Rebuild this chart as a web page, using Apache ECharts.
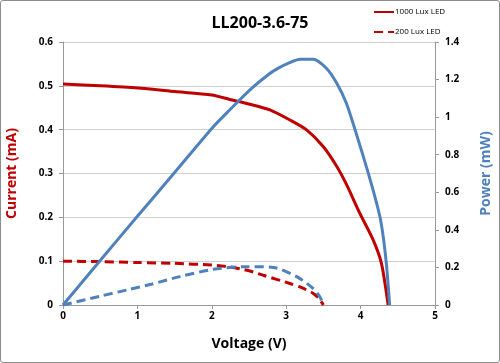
<!DOCTYPE html>
<html><head><meta charset="utf-8">
<script src="https://cdn.jsdelivr.net/npm/echarts@6/dist/echarts.min.js"></script>
<style>html,body{margin:0;padding:0;background:#fff;}
#wrap{position:absolute;left:0;top:0;width:498px;height:361px;border:1px solid #8c8c8c;border-radius:3px;}
#c{position:absolute;left:0;top:0;width:500px;height:363px;}</style>
</head><body><div id="wrap"></div><div id="c"></div>
<script>
const title = 'LL200-3.6-75';
const xTicks = [0, 1, 2, 3, 4, 5];
// 1000 Lux LED - current
const vI1000 = [0, 0.5, 1.0, 1.5, 2.0, 2.24, 2.51, 2.78, 3.05, 3.27, 3.50, 3.68, 3.81, 3.99, 4.17, 4.28, 4.37];
const i1000 = [0.504, 0.500, 0.495, 0.487, 0.479, 0.469, 0.458, 0.445, 0.422, 0.400, 0.361, 0.316, 0.275, 0.209, 0.148, 0.095, 0.0];
// 1000 Lux LED - power
const vP1000 = [0, 0.5, 1.0, 1.5, 2.0, 2.24, 2.51, 2.78, 2.9, 3.01, 3.19, 3.36, 3.54, 3.68, 3.81, 3.92, 4.13, 4.26, 4.31, 4.35, 4.39];
const p1000 = [0, 0.237, 0.472, 0.705, 0.94, 1.038, 1.144, 1.232, 1.262, 1.284, 1.308, 1.308, 1.26, 1.18, 1.073, 0.94, 0.665, 0.47, 0.346, 0.204, 0.0];
// 200 Lux LED - current
const vI200 = [0, 0.5, 1.0, 1.5, 2.0, 2.24, 2.5, 2.69, 3.05, 3.2, 3.36, 3.44, 3.50];
const i200 = [0.100, 0.099, 0.097, 0.095, 0.091, 0.087, 0.078, 0.068, 0.049, 0.040, 0.027, 0.015, 0.0];
// 200 Lux LED - power
const vP200 = [0, 0.5, 0.86, 1.2, 1.57, 2.02, 2.47, 2.83, 3.14, 3.36, 3.45, 3.50];
const p200 = [0, 0.047, 0.080, 0.112, 0.151, 0.190, 0.204, 0.200, 0.151, 0.089, 0.045, 0.0];

const RED = '#C00000', BLUE = '#4F81BD';
const pairs = (xs, ys) => xs.map((x, k) => [x, ys[k]]);
const font = '"Open Sans", "Liberation Sans", sans-serif';
const chart = echarts.init(document.getElementById('c'));
chart.setOption({
  animation: false,
  textStyle: { fontFamily: font },
  title: { text: title, left: 255, top: 10, textAlign: 'center',
    textStyle: { fontSize: 16, fontWeight: 'bold', color: '#000', fontFamily: font } },
  legend: {
    data: ['1000 Lux LED', '200 Lux LED'], orient: 'vertical', left: 368, top: 3,
    itemWidth: 20, itemHeight: 4, itemGap: 12,
    itemStyle: { opacity: 0 },
    textStyle: { fontSize: 8, color: '#000', fontFamily: font, padding: [0, 0, 0, -4] }
  },
  grid: { left: 63, right: 65, top: 42, bottom: 58, outerBoundsMode: 'none', containLabel: false },
  xAxis: {
    type: 'value', min: 0, max: 5, interval: 1,
    name: 'Voltage (V)', nameLocation: 'middle', nameGap: 32,
    nameTextStyle: { fontSize: 14, fontWeight: 'bold', color: '#000' },
    axisLine: { lineStyle: { color: '#999' } },
    axisTick: { show: true, lineStyle: { color: '#999' }, length: 4 },
    axisLabel: { fontSize: 10, fontWeight: 'bold', color: '#000', margin: 6 },
    splitLine: { show: false }
  },
  yAxis: [{
    type: 'value', min: 0, max: 0.6, interval: 0.1,
    name: 'Current (mA)', nameLocation: 'middle', nameGap: 44,
    nameTextStyle: { fontSize: 14, fontWeight: 'bold', color: RED },
    axisLine: { show: true, lineStyle: { color: '#999' } },
    axisTick: { show: true, lineStyle: { color: '#999' }, length: 4 },
    axisLabel: { fontSize: 10, fontWeight: 'bold', color: '#000', margin: 10, formatter: v => +v.toFixed(1) + '' },
    splitLine: { show: true, lineStyle: { color: '#d0d0d0' } }
  }, {
    type: 'value', min: 0, max: 1.4, interval: 0.2, position: 'right',
    name: 'Power (mW)', nameLocation: 'middle', nameGap: 44,
    nameTextStyle: { fontSize: 14, fontWeight: 'bold', color: BLUE },
    axisLine: { show: true, lineStyle: { color: '#999' } },
    axisTick: { show: true, lineStyle: { color: '#999' }, length: 4 },
    axisLabel: { fontSize: 10, fontWeight: 'bold', color: '#000', margin: 10, formatter: v => +v.toFixed(1) + '' },
    splitLine: { show: false }
  }],
  series: [
    { name: '1000 Lux LED', type: 'line', yAxisIndex: 0, data: pairs(vI1000, i1000), showSymbol: false, symbol: 'none', smooth: 0.25,
      lineStyle: { color: RED, width: 3 }, itemStyle: { color: RED } },
    { name: '200 Lux LED', type: 'line', yAxisIndex: 0, data: pairs(vI200, i200), showSymbol: false, symbol: 'none', smooth: 0.25,
      lineStyle: { color: RED, width: 3, type: [9, 5] }, itemStyle: { color: RED } },
    { name: 'P1000', type: 'line', yAxisIndex: 1, data: pairs(vP1000, p1000), showSymbol: false, symbol: 'none', smooth: 0.25,
      lineStyle: { color: BLUE, width: 3 }, itemStyle: { color: BLUE } },
    { name: 'P200', type: 'line', yAxisIndex: 1, data: pairs(vP200, p200), showSymbol: false, symbol: 'none', smooth: 0.25,
      lineStyle: { color: BLUE, width: 3, type: [9, 5] }, itemStyle: { color: BLUE } }
  ]
});
</script></body></html>
